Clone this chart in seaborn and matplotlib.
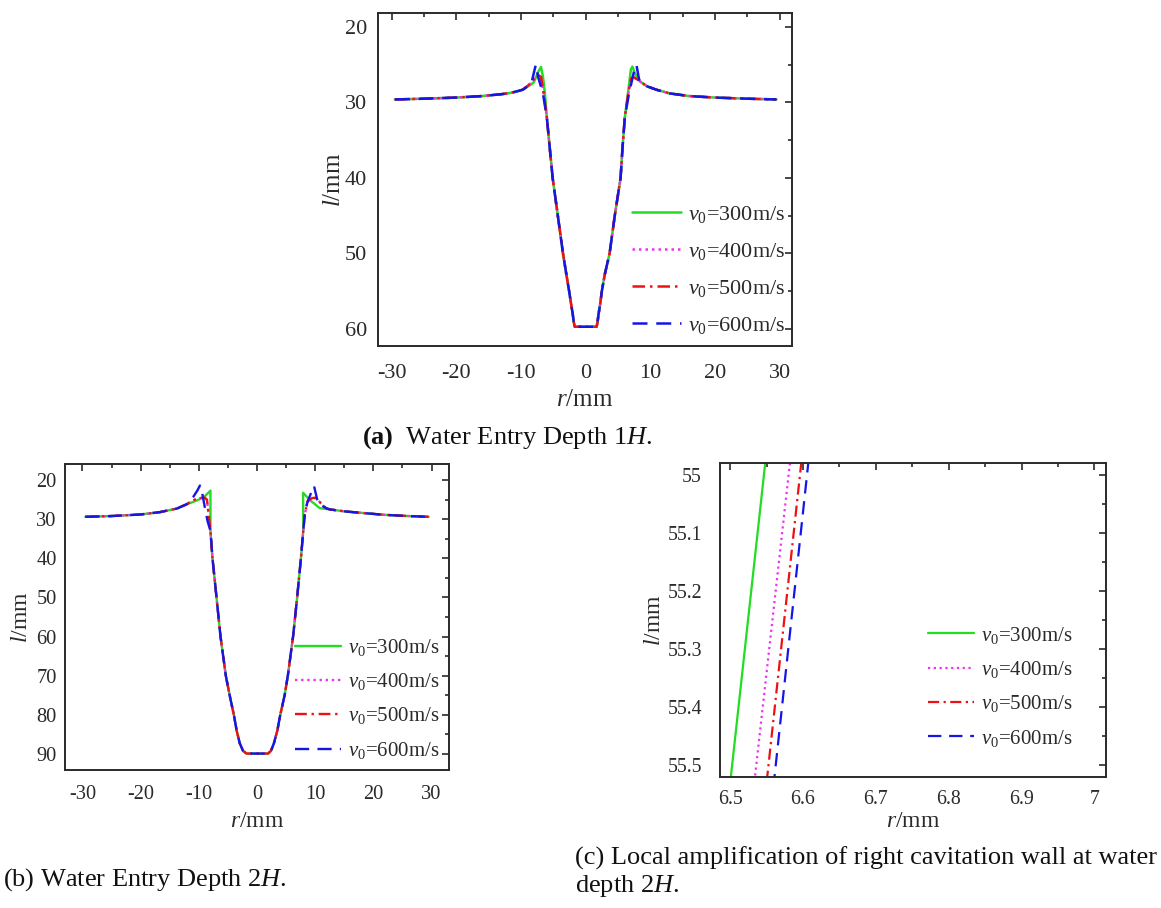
import matplotlib
matplotlib.use("Agg")
import matplotlib.pyplot as plt
import seaborn as sns
from matplotlib.ticker import MultipleLocator, FuncFormatter

# ---------------- data ----------------
speeds = ["300m/s", "400m/s", "500m/s", "600m/s"]
colors = ["#22dd22", "#ee33ee", "#ee1111", "#1515e6"]

# Panel (a): water entry depth 1H
A_tail_left_r = [-29.5, -25.0, -20.0, -16.0, -13.0, -11.7, -10.5, -9.7]
A_tail_left_l = [29.6, 29.5, 29.35, 29.15, 28.9, 28.75, 28.5, 28.3]
A_wall_r = [-6.0, -5.55, -5.1, -4.3, -3.5, -2.9, -2.55, -2.25, -2.0, -1.85, -1.7,
            1.7, 1.85, 2.0, 2.25, 2.5, 2.95, 3.7, 4.5, 5.4, 5.7, 6.05]
A_wall_l = [32.0, 36.0, 40.0, 45.0, 50.0, 53.2, 55.0, 56.7, 58.0, 59.0, 59.7,
            59.7, 59.0, 58.0, 56.7, 55.0, 52.8, 50.0, 45.0, 40.0, 36.0, 32.0]
A_tail_right_r = [10.9, 13.0, 16.0, 20.0, 25.0, 29.5]
A_tail_right_l = [28.3, 28.8, 29.15, 29.35, 29.5, 29.6]
A_peak_left_r = [[-8.4, -8.0, -7.3, -6.9, -6.6, -6.3],
                 [-8.4, -8.0, -7.3, -6.9, -6.5],
                 [-8.4, -8.0, -7.4, -6.9, -6.5],
                 [-8.4, -7.9, -7.7, -7.35, -6.6]]
A_peak_left_l = [[27.6, 27.3, 25.9, 25.3, 26.6, 28.8],
                 [27.4, 26.9, 26.3, 26.8, 28.7],
                 [27.4, 26.9, 26.4, 26.6, 28.7],
                 [27.5, 25.7, 25.0, 26.6, 28.8]]
A_peak_right_r = [[6.55, 7.0, 7.23, 7.6, 8.4, 9.5],
                  [6.6, 7.0, 7.3, 7.9, 8.9, 9.5],
                  [6.6, 7.0, 7.34, 7.9, 8.9, 9.5],
                  [6.7, 7.5, 7.85, 8.27, 8.9, 9.5]]
A_peak_right_l = [[28.8, 25.6, 25.25, 26.1, 27.2, 27.9],
                  [28.7, 27.0, 26.6, 26.9, 27.5, 27.85],
                  [28.7, 26.9, 26.6, 26.9, 27.5, 27.85],
                  [28.8, 25.8, 25.0, 27.0, 27.5, 27.85]]

# Panel (b): water entry depth 2H
B_tail_left_r = [-29.5, -25.0, -20.0, -16.7, -13.8, -12.1]
B_tail_left_l = [29.4, 29.2, 28.8, 28.2, 27.3, 26.2]
B_wall_r = [-8.0, -7.65, -6.96, -6.27, -5.36, -4.7, -3.98, -3.5, -2.96, -2.4, -1.8,
            1.9, 2.4, 2.9, 3.5, 4.0, 4.75, 5.3, 6.2, 6.9, 7.55, 7.95]
B_wall_l = [33.0, 40.0, 50.0, 60.0, 70.0, 75.0, 80.0, 84.0, 87.3, 89.2, 89.9,
            89.9, 89.2, 87.3, 84.0, 80.0, 75.0, 70.0, 60.0, 50.0, 40.0, 33.0]
B_tail_right_r = [12.5, 15.0, 18.8, 22.0, 26.0, 29.5]
B_tail_right_l = [27.5, 28.0, 28.5, 28.9, 29.2, 29.4]
B_peak_left_r = [[-11.0, -10.0, -9.0, -8.0, -8.0],
                 [-11.0, -10.0, -9.0, -8.6, -8.3],
                 [-11.0, -10.0, -9.0, -8.6, -8.3],
                 [-11.0, -10.3, -9.8, -9.4, -8.9, -8.5]]
B_peak_left_l = [[25.6, 25.0, 24.2, 22.7, 28.0],
                 [25.2, 24.7, 24.6, 25.1, 29.0],
                 [25.2, 24.6, 24.5, 25.0, 29.0],
                 [24.4, 22.8, 21.4, 23.5, 27.5, 30.5]]
B_peak_right_r = [[7.95, 7.92, 9.07, 10.8],
                  [8.2, 8.7, 9.5, 10.2, 11.0, 11.9],
                  [8.2, 8.7, 9.5, 10.2, 11.0, 11.9],
                  [8.2, 8.6, 9.36, 9.8, 10.5, 11.9]]
B_peak_right_l = [[29.0, 23.25, 25.1, 27.2],
                  [29.0, 25.4, 24.7, 24.6, 26.0, 27.2],
                  [29.0, 25.3, 24.6, 24.5, 26.0, 27.2],
                  [29.0, 26.0, 23.0, 21.5, 26.0, 27.2]]

# Panel (c): local amplification of right cavity wall at 2H
C_l = [54.9, 55.6]
C_r = [[6.555, 6.494],
       [6.589, 6.527],
       [6.6044, 6.544],
       [6.614, 6.554]]

# ---------------- style ----------------
sns.set_style("white")
plt.rcParams["font.family"] = ["Liberation Serif", "DejaVu Serif"]
plt.rcParams["mathtext.fontset"] = "custom"
plt.rcParams["mathtext.rm"] = "Liberation Serif"
plt.rcParams["mathtext.it"] = "Liberation Serif:italic"
plt.rcParams["mathtext.bf"] = "Liberation Serif:bold"
plt.rcParams["axes.unicode_minus"] = False

styles = ["-", (0, (1, 1.6)), (0, (5, 2, 1, 2)), (0, (6, 3.5))]
ink = "#2a2a2a"

fig = plt.figure(figsize=(11.61, 9.08), dpi=100)


def style_axes(ax, tick_fs, lab_fs, xpad, ypad, xlabpad, ylabpad):
    for s in ax.spines.values():
        s.set_color(ink)
        s.set_linewidth(1.4)
    ax.tick_params(which="both", direction="in", top=True, right=True,
                   colors=ink, width=1.2)
    ax.tick_params(which="major", length=5, labelsize=tick_fs)
    ax.tick_params(which="minor", length=3)
    ax.tick_params(axis="x", which="major", pad=xpad)
    ax.tick_params(axis="y", which="major", pad=ypad)
    ax.set_xlabel(r"$r$/mm", fontsize=lab_fs, color=ink, labelpad=xlabpad)
    ax.set_ylabel(r"$l$/mm", fontsize=lab_fs, color=ink, labelpad=ylabpad)


def add_legend(ax, fs, anchor, spacing):
    leg = ax.legend(loc="lower right", bbox_to_anchor=anchor, frameon=False,
                    fontsize=fs, handlelength=2.2, handletextpad=0.35,
                    labelspacing=spacing, borderaxespad=0, borderpad=0)
    for t in leg.get_texts():
        t.set_color(ink)


# ---- panel (a)
axA = fig.add_axes([378 / 1161, 1 - 346 / 908, 414 / 1161, 333 / 908])
for i in range(4):
    r = A_tail_left_r + A_peak_left_r[i] + A_wall_r + A_peak_right_r[i] + A_tail_right_r
    l = A_tail_left_l + A_peak_left_l[i] + A_wall_l + A_peak_right_l[i] + A_tail_right_l
    sns.lineplot(x=r, y=l, ax=axA, sort=False, estimator=None, color=colors[i],
                 linestyle=styles[i], linewidth=1.8, label=r"$v_0$=" + speeds[i])
axA.set_xlim(-32.1, 31.9)
axA.set_ylim(62.25, 18.15)
axA.xaxis.set_major_locator(MultipleLocator(10))
axA.xaxis.set_minor_locator(MultipleLocator(5))
axA.yaxis.set_major_locator(MultipleLocator(10))
axA.yaxis.set_minor_locator(MultipleLocator(5))
style_axes(axA, 16, 18, 13, 8, 4, 0)
add_legend(axA, 16, (0.985, 0.03), 0.72)

# ---- panel (b)
axB = fig.add_axes([65 / 1161, 1 - 770 / 908, 384 / 1161, 306 / 908])
for i in range(4):
    r = B_tail_left_r + B_peak_left_r[i] + B_wall_r + B_peak_right_r[i] + B_tail_right_r
    l = B_tail_left_l + B_peak_left_l[i] + B_wall_l + B_peak_right_l[i] + B_tail_right_l
    sns.lineplot(x=r, y=l, ax=axB, sort=False, estimator=None, color=colors[i],
                 linestyle=styles[i], linewidth=1.7, label=r"$v_0$=" + speeds[i])
axB.set_xlim(-33.0, 33.0)
axB.set_ylim(94.1, 15.9)
axB.xaxis.set_major_locator(MultipleLocator(10))
axB.xaxis.set_minor_locator(MultipleLocator(5))
axB.yaxis.set_major_locator(MultipleLocator(10))
axB.yaxis.set_minor_locator(MultipleLocator(5))
style_axes(axB, 14.7, 17, 11, 6, 5, 3)
add_legend(axB, 15, (0.975, 0.03), 0.64)

# ---- panel (c)
axC = fig.add_axes([720 / 1161, 1 - 777 / 908, 386 / 1161, 314 / 908])
for i in range(4):
    sns.lineplot(x=C_r[i], y=C_l, ax=axC, sort=False, estimator=None, color=colors[i],
                 linestyle=styles[i], linewidth=1.6, label=r"$v_0$=" + speeds[i])
axC.set_xlim(6.486, 7.016)
axC.set_ylim(55.521, 54.979)
axC.xaxis.set_major_locator(MultipleLocator(0.1))
axC.xaxis.set_minor_locator(MultipleLocator(0.05))
axC.yaxis.set_major_locator(MultipleLocator(0.1))
axC.yaxis.set_minor_locator(MultipleLocator(0.05))
fmt = FuncFormatter(lambda v, p: "%g" % round(v, 3))
axC.xaxis.set_major_formatter(fmt)
axC.yaxis.set_major_formatter(fmt)
style_axes(axC, 14.3, 17, 9, 13, 2, 2)
add_legend(axC, 15, (0.913, 0.09), 0.64)

# ---- captions
cap_fs = 19
fig.text(362 / 1161, 1 - 438 / 908, r"$\mathbf{(a)}$  Water Entry Depth 1$H$.",
         fontsize=cap_fs, color="#111111", ha="left", va="center")
fig.text(3 / 1161, 1 - 880 / 908, r"(b) Water Entry Depth 2$H$.",
         fontsize=cap_fs, color="#111111", ha="left", va="center")
fig.text(575 / 1161, 1 - 858 / 908, r"(c) Local amplification of right cavitation wall at water",
         fontsize=cap_fs, color="#111111", ha="left", va="center")
fig.text(575 / 1161, 1 - 886 / 908, r"depth 2$H$.",
         fontsize=cap_fs, color="#111111", ha="left", va="center")

fig.savefig("out.png", dpi=100)
